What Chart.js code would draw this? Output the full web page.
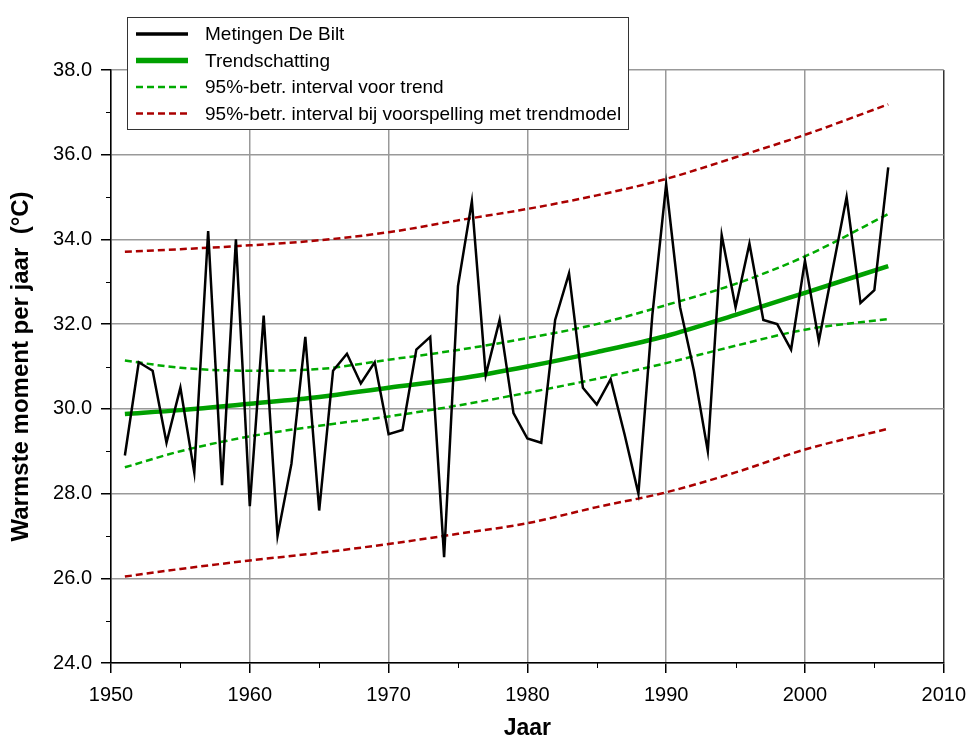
<!DOCTYPE html>
<html>
<head>
<meta charset="utf-8">
<script src="https://cdn.jsdelivr.net/npm/chart.js@4"></script>
<style>
    body { margin: 0; background: #fff; }
    canvas { display: block; }
</style>
</head>
<body>
<canvas id="myChart" width="976" height="738"></canvas>
<script>
// metingen per jaar
const years = [1951, 1952, 1953, 1954, 1955, 1956, 1957, 1958, 1959, 1960,
    1961, 1962, 1963, 1964, 1965, 1966, 1967, 1968, 1969, 1970,
    1971, 1972, 1973, 1974, 1975, 1976, 1977, 1978, 1979, 1980,
    1981, 1982, 1983, 1984, 1985, 1986, 1987, 1988, 1989, 1990,
    1991, 1992, 1993, 1994, 1995, 1996, 1997, 1998, 1999, 2000,
    2001, 2002, 2003, 2004, 2005, 2006];
const metingen = [28.9, 31.1, 30.9, 29.2, 30.5, 28.5, 34.2, 28.2, 34.0, 27.7,
    32.2, 27.0, 28.7, 31.7, 27.6, 30.9, 31.3, 30.6, 31.1, 29.4,
    29.5, 31.4, 31.7, 26.5, 32.9, 34.9, 30.8, 32.1, 29.9, 29.3,
    29.2, 32.1, 33.2, 30.5, 30.1, 30.7, 29.4, 28.0, 32.2, 35.3,
    32.4, 30.9, 29.0, 34.1, 32.4, 33.9, 32.1, 32.0, 31.4, 33.5,
    31.6, 33.3, 35.0, 32.5, 32.8, 35.7];

const trendYears = [1951, 1955, 1960, 1965, 1970, 1975, 1980, 1985, 1990, 1995, 2000, 2006];
const trend      = [29.88, 29.97, 30.12, 30.28, 30.50, 30.71, 31.00, 31.34, 31.72, 32.22, 32.74, 33.37];
const trendHoog  = [31.14, 30.97, 30.90, 30.94, 31.16, 31.39, 31.67, 32.00, 32.45, 32.95, 33.60, 34.60];
const trendLaag  = [28.62, 29.00, 29.35, 29.60, 29.82, 30.08, 30.38, 30.71, 31.08, 31.49, 31.87, 32.12];
const voorspHoog = [33.71, 33.77, 33.86, 33.98, 34.17, 34.45, 34.72, 35.04, 35.43, 35.94, 36.47, 37.19];
const voorspLaag = [26.04, 26.22, 26.42, 26.60, 26.81, 27.05, 27.30, 27.68, 28.03, 28.50, 29.04, 29.53];

const xTicks = [1950, 1960, 1970, 1980, 1990, 2000, 2010];
const yTicks = [24, 26, 28, 30, 32, 34, 36, 38];

const fontFam = "'Liberation Sans', Arial, sans-serif";

function toPoints(xs, ys) {
    return xs.map(function (x, i) { return { x: x, y: ys[i] }; });
}

const legendPlugin = {
    id: 'boxLegend',
    afterDraw: function (chart) {
        const c = chart.ctx;
        c.save();
        c.fillStyle = '#fff';
        c.fillRect(127.5, 17.5, 501, 112);
        c.strokeStyle = '#333';
        c.lineWidth = 1;
        c.strokeRect(127.5, 17.5, 501, 112);
        let row = 0;
        chart.data.datasets.forEach(function (ds) {
            if (!ds.label) {
                return;
            }
            const y = 34 + row * 26.5;
            row++;
            c.beginPath();
            c.strokeStyle = ds.borderColor;
            c.lineWidth = ds.borderWidth + (ds.borderDash ? 0 : 1);
            c.setLineDash(ds.borderDash || []);
            c.moveTo(136, y);
            c.lineTo(188, y);
            c.stroke();
            c.setLineDash([]);
            c.fillStyle = '#000';
            c.font = '19px ' + fontFam;
            c.textBaseline = 'middle';
            c.fillText(ds.label, 205, y + 1);
        });
        c.restore();
    }
};

// kleine tussenstreepjes op de assen
const minorTicksPlugin = {
    id: 'minorTicks',
    afterDraw: function (chart) {
        const c = chart.ctx;
        const xs = chart.scales.x;
        const ys = chart.scales.y;
        c.save();
        c.strokeStyle = '#000';
        c.lineWidth = 1;
        for (let i = 0; i < yTicks.length - 1; i++) {
            const py = Math.round(ys.getPixelForValue((yTicks[i] + yTicks[i + 1]) / 2)) + 0.5;
            c.beginPath();
            c.moveTo(ys.right - 5, py);
            c.lineTo(ys.right, py);
            c.stroke();
        }
        for (let i = 0; i < xTicks.length - 1; i++) {
            const px = Math.round(xs.getPixelForValue((xTicks[i] + xTicks[i + 1]) / 2)) + 0.5;
            c.beginPath();
            c.moveTo(px, xs.top);
            c.lineTo(px, xs.top + 5);
            c.stroke();
        }
        c.restore();
    }
};

const ctx = document.getElementById('myChart');

let cfg = {
    type: 'line',
    data: {
        datasets: [{
            label: 'Metingen De Bilt',
            data: toPoints(years, metingen),
            borderColor: '#000000',
            borderWidth: 2.5,
            order: 0
        }, {
            label: 'Trendschatting',
            data: toPoints(trendYears, trend),
            borderColor: '#00a000',
            borderWidth: 4.5,
            cubicInterpolationMode: 'monotone',
            order: 1
        }, {
            label: '95%-betr. interval voor trend',
            data: toPoints(trendYears, trendHoog),
            borderColor: '#00aa00',
            borderWidth: 2.5,
            borderDash: [7, 4],
            cubicInterpolationMode: 'monotone',
            order: 2
        }, {
            label: '95%-betr. interval bij voorspelling met trendmodel',
            data: toPoints(trendYears, voorspHoog),
            borderColor: '#aa0000',
            borderWidth: 2.5,
            borderDash: [7, 4],
            cubicInterpolationMode: 'monotone',
            order: 3
        }, {
            label: '',
            data: toPoints(trendYears, trendLaag),
            borderColor: '#00aa00',
            borderWidth: 2.5,
            borderDash: [7, 4],
            cubicInterpolationMode: 'monotone',
            order: 2
        }, {
            label: '',
            data: toPoints(trendYears, voorspLaag),
            borderColor: '#aa0000',
            borderWidth: 2.5,
            borderDash: [7, 4],
            cubicInterpolationMode: 'monotone',
            order: 3
        }]
    },
    options: {
        responsive: false,
        animation: false,
        devicePixelRatio: 1,
        elements: { point: { radius: 0 }, line: { tension: 0 } },
        layout: { padding: { left: 0, top: 70, right: 26, bottom: 0 } },
        plugins: {
            legend: { display: false },
            tooltip: { enabled: false }
        },
        scales: {
            x: {
                type: 'linear',
                min: 1950,
                max: 2010,
                afterBuildTicks: function (scale) {
                    scale.ticks = xTicks.map(function (v) { return { value: v }; });
                },
                afterFit: function (scale) { scale.height = 75; },
                ticks: {
                    callback: function (value) { return String(value); },
                    color: '#000',
                    padding: 10,
                    maxRotation: 0,
                    font: { family: fontFam, size: 20 }
                },
                grid: {
                    color: function (c) { return c.tick && c.tick.value === 2010 ? '#333' : '#999'; },
                    lineWidth: 1.5,
                    tickLength: 10,
                    tickColor: '#000'
                },
                border: { color: '#000', width: 1.5 },
                title: {
                    display: true,
                    text: 'Jaar',
                    color: '#000',
                    font: { family: fontFam, size: 23, weight: 'bold', lineHeight: 0.8 },
                    padding: { top: 0, bottom: 0 }
                }
            },
            y: {
                min: 24,
                max: 38,
                afterBuildTicks: function (scale) {
                    scale.ticks = yTicks.map(function (v) { return { value: v }; });
                },
                afterFit: function (scale) { scale.width = 111; },
                ticks: {
                    callback: function (value) { return value.toFixed(1); },
                    color: '#000',
                    padding: 9,
                    font: { family: fontFam, size: 20 }
                },
                grid: {
                    color: '#999',
                    lineWidth: 1.5,
                    tickLength: 10,
                    tickColor: '#000'
                },
                border: { color: '#000', width: 1.5 },
                title: {
                    display: true,
                    text: 'Warmste moment per jaar  (°C)',
                    color: '#000',
                    font: { family: fontFam, size: 24, weight: 'bold', lineHeight: 1 },
                    padding: { top: 9, bottom: 0 }
                }
            }
        }
    },
    plugins: [minorTicksPlugin, legendPlugin]
};

let myChart = new Chart(ctx, cfg);
</script>
</body>
</html>
